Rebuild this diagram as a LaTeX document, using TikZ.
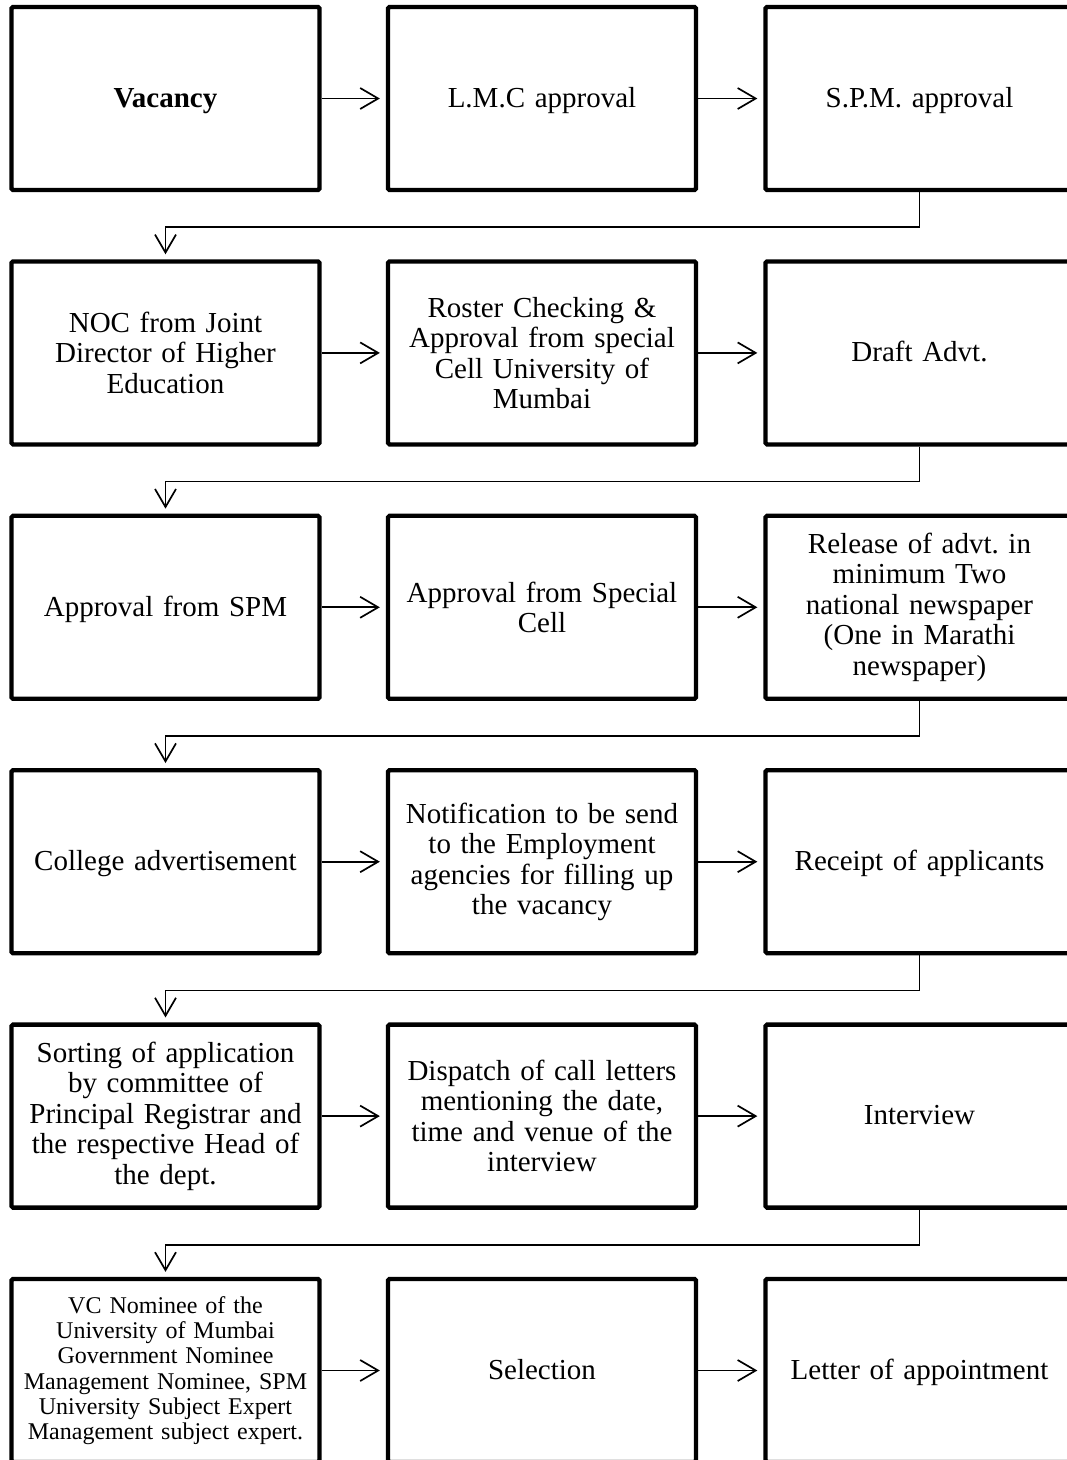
\documentclass[tikz,border=0pt]{standalone}
\usepackage{fontspec}
\setmainfont{Liberation Serif}
\usetikzlibrary{arrows.meta}
\frenchspacing
\tikzset{
  flowbox/.style={draw=black, line width=4.3pt, rectangle, rounded corners=1.5pt,
    minimum width=307pt, minimum height=183pt, inner sep=4pt, align=center,
    text width=300pt, font=\fontsize{29pt}{30.5pt}\selectfont\frenchspacing},
  oneline/.style={text height=23pt, text depth=5.4pt},
  smalltext/.style={font=\fontsize{24pt}{25.3pt}\selectfont\frenchspacing},
  arr/.style={line width=1.7pt, -{Straight Barb[length=18pt,width=21pt]}, shorten >=6pt},
  link/.style={line width=1.7pt, -{Straight Barb[length=18pt,width=21pt]}, shorten >=5pt}
}
\begin{document}
\begin{tikzpicture}[x=1pt,y=-1pt]
\clip (0,0) rectangle (1067,1460);
\fill[white] (0,0) rectangle (1067,1460);
% row 1
\node[flowbox, oneline] (a1) at (165.5,98.5) {\textbf{Vacancy}};
\node[flowbox, oneline] (a2) at (542,98.5) {L.M.C approval};
\node[flowbox, oneline] (a3) at (919.5,98.5) {S.P.M. approval};
% row 2
\node[flowbox] (b1) at (165.5,352.9) {NOC from Joint\\Director of Higher\\Education};
\node[flowbox] (b2) at (542,352.9) {Roster Checking \&\\Approval from special\\Cell University of\\Mumbai};
\node[flowbox, oneline] (b3) at (919.5,352.9) {Draft Advt.};
% row 3
\node[flowbox, oneline] (c1) at (165.5,607.3) {Approval from SPM};
\node[flowbox] (c2) at (542,607.3) {Approval from Special\\Cell};
\node[flowbox] (c3) at (919.5,607.3) {Release of advt. in\\minimum Two\\national newspaper\\(One in Marathi\\newspaper)};
% row 4
\node[flowbox, oneline] (d1) at (165.5,861.7) {College advertisement};
\node[flowbox] (d2) at (542,861.7) {Notification to be send\\to the Employment\\agencies for filling up\\the vacancy};
\node[flowbox, oneline] (d3) at (919.5,861.7) {Receipt of applicants};
% row 5
\node[flowbox] (e1) at (165.5,1116.1) {Sorting of application\\by committee of\\Principal Registrar and\\the respective Head of\\the dept.};
\node[flowbox] (e2) at (542,1116.1) {Dispatch of call letters\\mentioning the date,\\time and venue of the\\interview};
\node[flowbox, oneline] (e3) at (919.5,1116.1) {Interview};
% row 6
\node[flowbox, smalltext] (f1) at (165.5,1370.5) {VC Nominee of the\\University of Mumbai\\Government Nominee\\Management Nominee, SPM\\University Subject Expert\\Management subject expert.};
\node[flowbox, oneline] (f2) at (542,1370.5) {Selection};
\node[flowbox, oneline] (f3) at (919.5,1370.5) {Letter of appointment};
% horizontal arrows
\foreach \r in {a,b,c,d,e,f}{
  \draw[arr] (\r1.east) -- (\r2.west);
  \draw[arr] (\r2.east) -- (\r3.west);
}
% row-to-row connectors
\draw[link] (a3.south) -- ++(0,35) -| (b1.north);
\draw[link] (b3.south) -- ++(0,35) -| (c1.north);
\draw[link] (c3.south) -- ++(0,35) -| (d1.north);
\draw[link] (d3.south) -- ++(0,35) -| (e1.north);
\draw[link] (e3.south) -- ++(0,35) -| (f1.north);
\end{tikzpicture}
\end{document}
